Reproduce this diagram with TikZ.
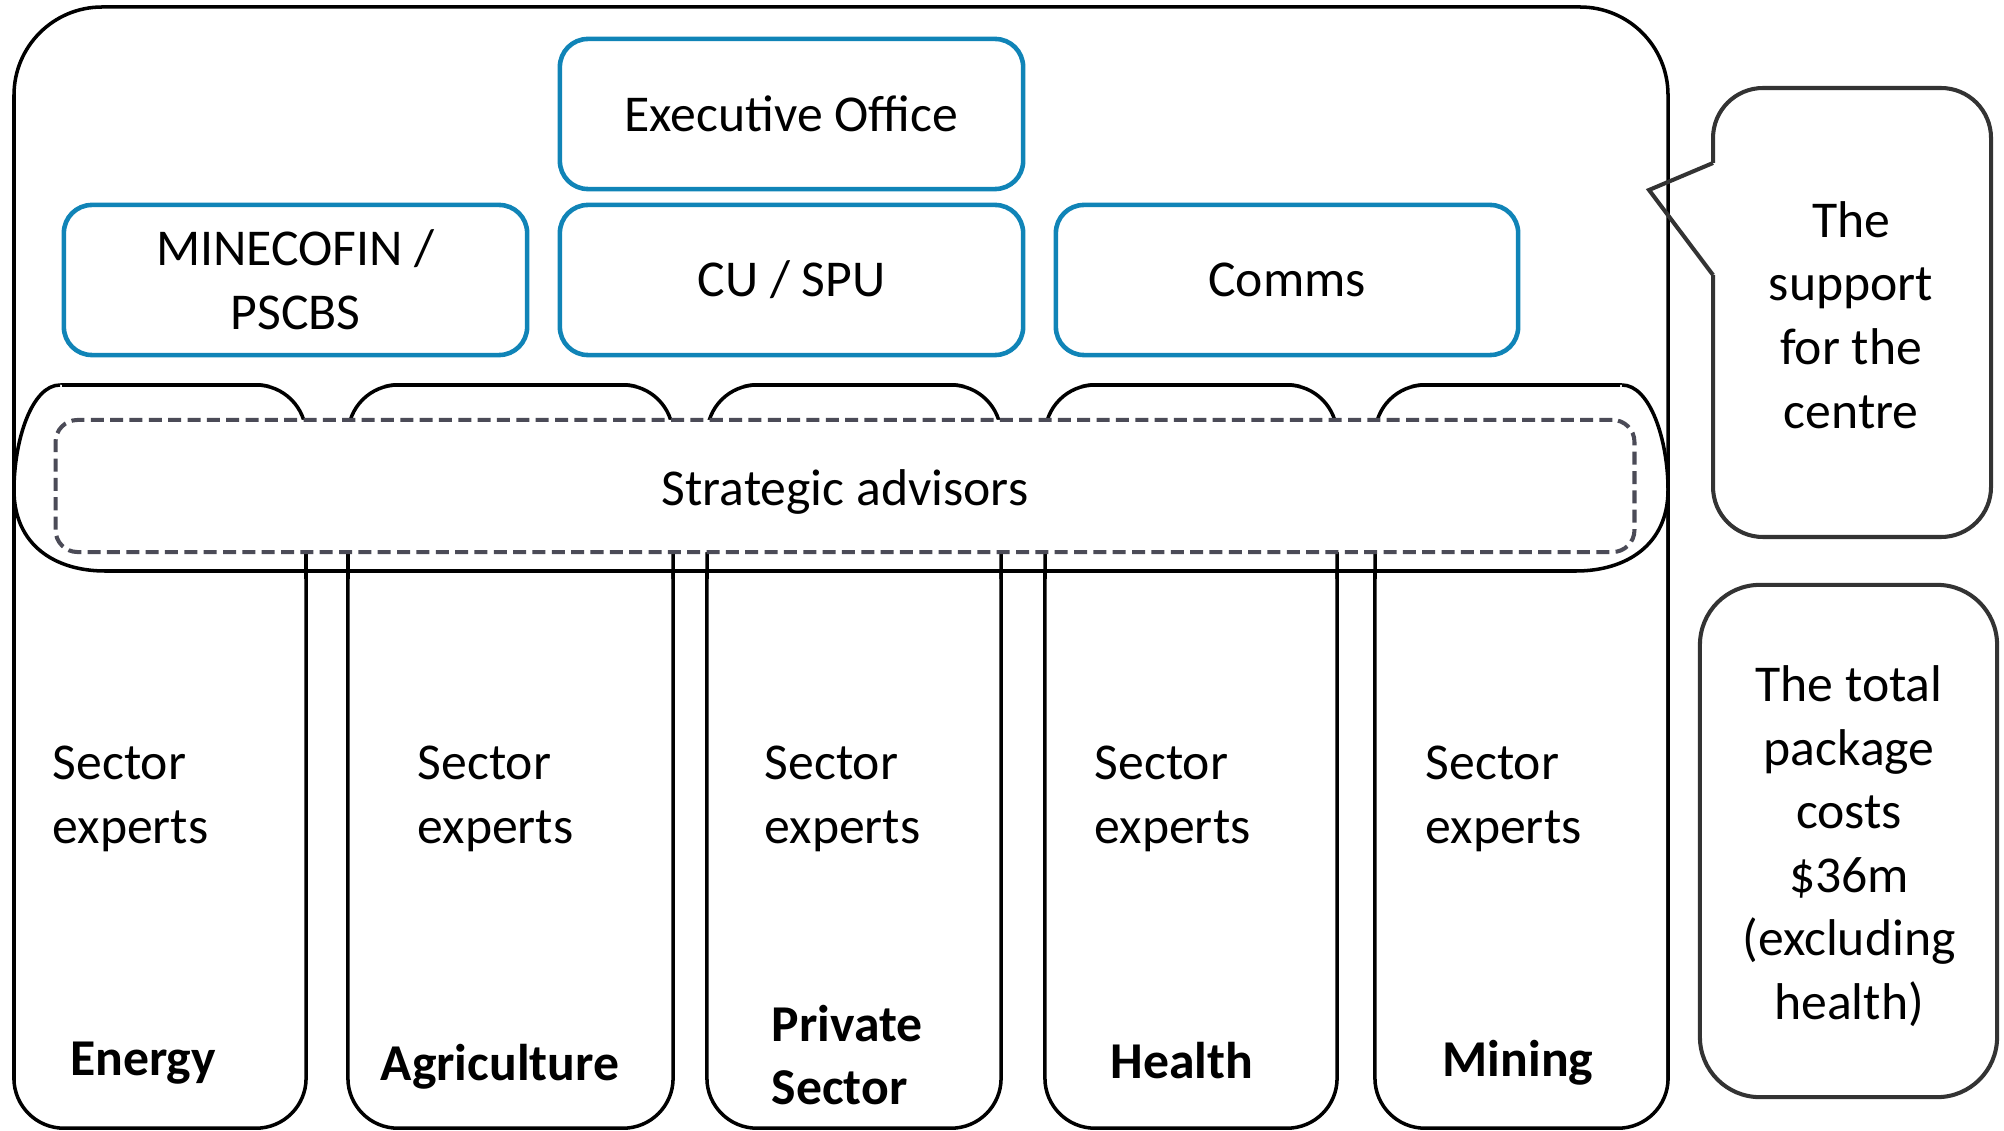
\documentclass[tikz,border=0pt]{standalone}
\usepackage{fontspec}
\setmainfont{Carlito}
\definecolor{cublue}{RGB}{16,132,183}
\definecolor{callgray}{RGB}{51,51,51}
\definecolor{dashgray}{RGB}{75,75,87}
\tikzset{
  base/.style={font=\fontsize{14.7}{18.07}\selectfont},
  boldlbl/.style={font=\fontsize{14.7}{18.07}\selectfont\bfseries, align=left, inner sep=0pt},
  bluebox/.style={draw=cublue, line width=1.3pt, rounded corners=0.28cm, fill=white, inner sep=0pt, align=center, base},
  column/.style={draw=black, line width=1pt, rounded corners=0.5cm, fill=white, inner sep=0pt},
  colline/.style={draw=black, line width=1pt, rounded corners=0.5cm},
  outerline/.style={draw=black, line width=1pt},
  dashbox/.style={draw=dashgray, line width=1.15pt, dash pattern=on 3.7pt off 1.8pt, rounded corners=0.22cm, fill=white, inner sep=0pt, base},
  grayline/.style={draw=callgray, line width=1.15pt},
  graybox/.style={draw=callgray, line width=1.15pt, rounded corners=0.6cm, fill=white, inner sep=0pt},
  sectortxt/.style={base, align=left, inner sep=0pt, anchor=west},
  plaintxt/.style={base, align=center, inner sep=0pt},
}
\begin{document}
\begin{tikzpicture}[x=0.01cm,y=-0.01cm]
\useasboundingbox (0,0) rectangle (2004,1131);
% sector columns
\node[column, minimum width=2.92cm, minimum height=7.43cm] (energy) at (160,756.5) {};
\node[column, minimum width=3.25cm, minimum height=7.43cm] (agri) at (510.5,756.5) {};
\node[column, minimum width=2.94cm, minimum height=7.43cm] (priv) at (854,756.5) {};
\node[column, minimum width=2.92cm, minimum height=7.43cm] (health) at (1191,756.5) {};
\node[column, minimum width=2.93cm, minimum height=7.43cm] (mining) at (1521.5,756.5) {};
% strategic band
\fill[white] (60,385) -- (1622,385) .. controls (1650,385) and (1668,440) .. (1668,490)
  .. controls (1668,545) and (1626,571) .. (1576,571) -- (105,571)
  .. controls (55,571) and (14,545) .. (14,490) .. controls (14,440) and (32,385) .. (60,385) -- cycle;
\fill[white] (8,378) -- (60,378) -- (60,385) .. controls (32,385) and (14,440) .. (14,490) -- (8,490) -- cycle;
\fill[white] (1674,378) -- (1622,378) -- (1622,385) .. controls (1650,385) and (1668,440) .. (1668,490) -- (1674,490) -- cycle;
\draw[outerline] (1622,385) .. controls (1650,385) and (1668,440) .. (1668,490)
  .. controls (1668,545) and (1626,571) .. (1576,571) -- (105,571)
  .. controls (55,571) and (14,545) .. (14,490) .. controls (14,440) and (32,385) .. (60,385);
\begin{scope}
\clip (62,378) rectangle (1620,578);
\draw[colline] (14,385) rectangle (306,1128);
\draw[colline] (348,385) rectangle (673,1128);
\draw[colline] (707,385) rectangle (1001,1128);
\draw[colline] (1045,385) rectangle (1337,1128);
\draw[colline] (1375,385) rectangle (1668,1128);
\end{scope}
\node[dashbox, minimum width=15.78cm, minimum height=1.32cm] (sa) at (845,486) {};
\node[plaintxt] (satext) at (845,492) {Strategic advisors};
% outer frame
\draw[outerline, rounded corners=0.88cm] (14,1080) -- (14,7) -- (1668,7) -- (1668,1080);
% top boxes
\node[bluebox, minimum width=4.63cm, minimum height=1.5cm] (exec) at (791.5,114) {Executive Office};
\node[bluebox, minimum width=4.63cm, minimum height=1.5cm] (mine) at (295.5,280) {MINECOFIN /\\PSCBS};
\node[bluebox, minimum width=4.63cm, minimum height=1.5cm] (cu) at (791.5,280) {CU / SPU};
\node[bluebox, minimum width=4.62cm, minimum height=1.5cm] (comms) at (1287,280) {Comms};
% column texts
\node[sectortxt] (se1) at (52,799) {Sector\\experts};
\node[sectortxt] (se2) at (417,799) {Sector\\experts};
\node[sectortxt] (se3) at (764,799) {Sector\\experts};
\node[sectortxt] (se4) at (1094,799) {Sector\\experts};
\node[sectortxt] (se5) at (1425,799) {Sector\\experts};
\node[boldlbl] (l1) at (143,1063) {Energy};
\node[boldlbl] (l2) at (500,1067) {Agriculture};
\node[boldlbl, anchor=west] (l3) at (771,1055) {Private\\Sector};
\node[boldlbl] (l4) at (1182,1061) {Health};
\node[boldlbl] (l5) at (1518,1063) {Mining};
% callout
\draw[grayline, rounded corners=0.5cm] (1713,275) -- (1713,537) -- (1991,537) -- (1991,88) -- (1713,88) -- (1713,163);
\draw[grayline, line join=miter] (1713,163) -- (1649,190) -- (1713,275);
\node[plaintxt] (support) at (1851,315) {The\\support\\for the\\centre};
% total box
\node[graybox, minimum width=2.97cm, minimum height=5.12cm] (total) at (1848.5,841) {};
\node[plaintxt] (totaltext) at (1849,846) {The total\\package\\costs\\\$36m\\(excluding\\health)};
\end{tikzpicture}
\end{document}
